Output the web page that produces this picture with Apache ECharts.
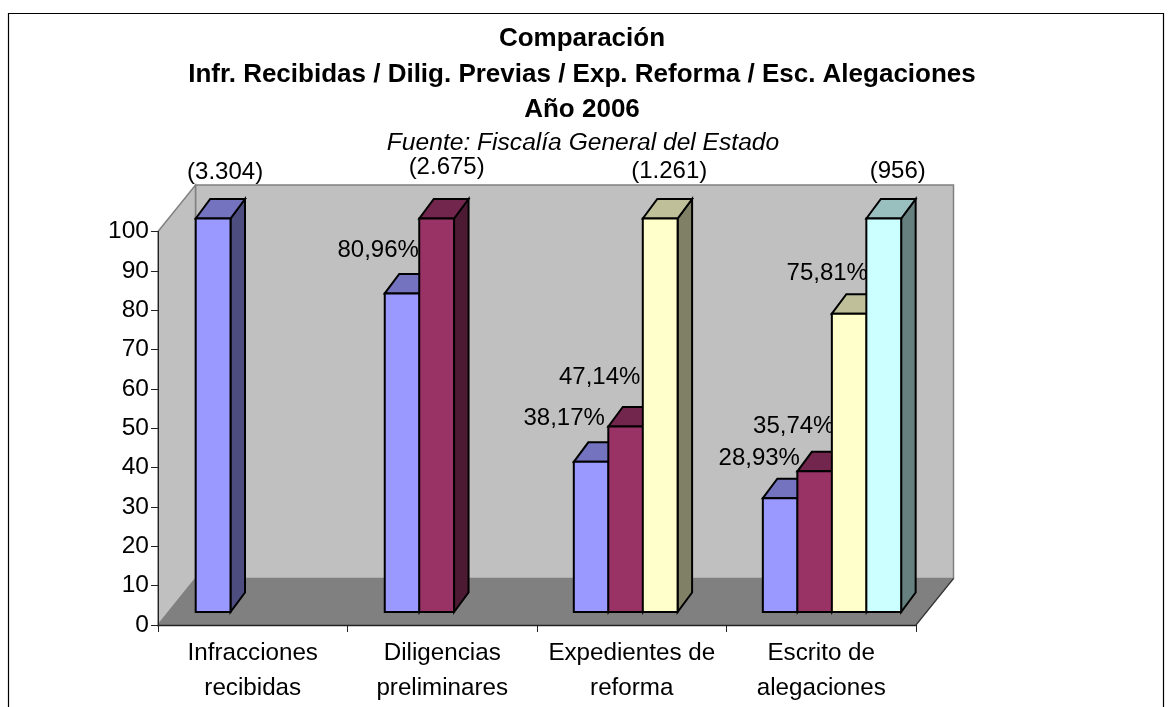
<!DOCTYPE html>
<html><head><meta charset="utf-8">
<style>html,body{margin:0;padding:0;background:#fff;overflow:hidden}#c{width:1173px;height:707px}</style>
<script src="https://cdn.jsdelivr.net/npm/echarts@6/dist/echarts.min.js"></script>
</head><body><div id="c"></div>
<script>
const categories = ['Infracciones\nrecibidas','Diligencias\npreliminares','Expedientes de\nreforma','Escrito de\nalegaciones'];
const seriesNames = ['Serie 1','Serie 2','Serie 3','Serie 4'];
const valuesA = [100, 80.96, 38.17, 28.93];
const valuesB = [null, 100, 47.14, 35.74];
const valuesC = [null, null, 100, 75.81];
const valuesD = [null, null, null, 100];
const labelsA = ['(3.304)', '80,96%', '38,17%', '28,93%'];
const labelsB = [null, '(2.675)', '47,14%', '35,74%'];
const labelsC = [null, null, '(1.261)', '75,81%'];
const labelsD = [null, null, null, '(956)'];
const yTicks = [0,100,10];
const titleLines = ['Comparación','Infr. Recibidas / Dilig. Previas / Exp. Reforma / Esc. Alegaciones','Año 2006'];
const sourceLine = 'Fuente: Fiscalía General del Estado';

// styles and layout (separate from data)
const colours = ['#9999FF','#993366','#FFFFCC','#CCFFFF'];
const tops = ['#7373BF','#73264D','#BFBF99','#99BFBF'];
const sides = ['#4D4D80','#4D1A33','#808066','#668080'];
const font = '"Liberation Sans", Arial, sans-serif';
const wallD = {x:37.5, y:-46.5};
const barFront = {x:37.7, groupSkew:-0.45, slot:34.5, w:34.8, y:-13};
const barD = {x:14.5, y:-19.5};
// label nudges relative to the bar's front-top centre: [dx, dy]
const nudges = [
  [[12,-46],[-24,-43],[-27,-43],[-21,-40]],
  [null,[10,-51],[-26,-49],[-21,-45]],
  [null,null,[9,-47],[-22,-40]],
  [null,null,null,[14,-47]]
];

function poly(pts, fill, stroke, lw){
  return {type:'polygon', shape:{points:pts}, style:{fill, stroke:stroke||null, lineWidth:lw||0, lineJoin:'miter'}};
}
function barSeries(s, values, labels){
  return {
    type:'custom', name:seriesNames[s], z:3+s, silent:true, clip:false,
    data: values.map((v,i)=>[i,v]).filter(d=>d[1]!==null),
    encode:{x:0,y:1},
    renderItem(params, api){
      const i = api.value(0), v = api.value(1);
      const band = api.size([1,0])[0];
      const c = api.coord([i,v]);
      const base = api.coord([i,0]);
      const x0 = c[0]-band/2+barFront.x+i*barFront.groupSkew+s*barFront.slot;
      const x1 = x0+barFront.w;
      const yT = c[1]+barFront.y, yB = base[1]+barFront.y;
      const dx = barD.x, dy = barD.y;
      const st = '#000', lw = 2;
      const n = nudges[s][i];
      return {type:'group', children:[
        poly([[x1,yT],[x1+dx,yT+dy],[x1+dx,yB+dy],[x1,yB]], sides[s], st, lw),
        poly([[x0,yT],[x0+dx,yT+dy],[x1+dx,yT+dy],[x1,yT]], tops[s], st, lw),
        poly([[x0,yT],[x1,yT],[x1,yB],[x0,yB]], colours[s], st, lw),
        {type:'text', z2:50, style:{x:(x0+x1)/2+n[0], y:yT+n[1], text:labels[i], fill:'#000',
          font:'24px '+font, align:'center', verticalAlign:'middle'}}
      ]};
    }
  };
}
const wallSeries = {
  type:'custom', name:'walls', z:1, silent:true, clip:false, data:[[0,0]], encode:{x:0,y:1},
  renderItem(params, api){
    const g = params.coordSys;
    const L=g.x, R=g.x+g.width, T=g.y, B=g.y+g.height, dx=wallD.x, dy=wallD.y;
    const edge='#808080';
    return {type:'group', children:[
      poly([[L+dx,T+dy],[R+dx,T+dy],[R+dx,B+dy],[L+dx,B+dy]], '#C0C0C0', edge, 1.5),
      poly([[L,T],[L+dx,T+dy],[L+dx,B+dy],[L,B]], '#C0C0C0', edge, 1.5),
      poly([[L,B],[R,B],[R+dx,B+dy],[L+dx,B+dy]], '#808080', null, 0),
      {type:'line', shape:{x1:R,y1:B,x2:R+dx,y2:B+dy}, style:{stroke:'#333',lineWidth:1.2}}
    ]};
  }
};
const titleY = [26,62,97];
const option = {
  animation:false,
  backgroundColor:'#fff',
  title:[
    ...titleLines.map((t,i)=>({text:t,left:582,top:titleY[i],padding:0,textAlign:'center',
      textStyle:{fontFamily:font,fontWeight:'bold',fontSize:26,color:'#000'}})),
    {text:sourceLine,left:583,top:131,padding:0,textAlign:'center',
      textStyle:{fontFamily:font,fontStyle:'italic',fontWeight:'normal',fontSize:24.6,color:'#000'}}
  ],
  graphic:[{type:'rect',silent:true,z:-1,shape:{x:8.5,y:13.5,width:1155,height:720},style:{fill:'#fff',stroke:'#000',lineWidth:1.2}}],
  grid:{left:158,top:231.5,width:758,height:393.5,containLabel:false,outerBoundsMode:'none'},
  xAxis:{type:'category',data:categories,z:10,boundaryGap:true,
    axisLine:{show:true,lineStyle:{color:'#222',width:1.3}},
    axisTick:{show:true,alignWithLabel:false,length:7,lineStyle:{color:'#222',width:1}},
    splitLine:{show:false},
    axisLabel:{interval:0,margin:11,fontFamily:font,fontSize:24.2,color:'#000',lineHeight:35}},
  yAxis:{type:'value',min:yTicks[0],max:yTicks[1],interval:yTicks[2],z:10,
    axisLine:{show:true,lineStyle:{color:'#222',width:1}},
    axisTick:{show:true,length:7,lineStyle:{color:'#222',width:1}},
    splitLine:{show:false},
    axisLabel:{margin:9,fontFamily:font,fontSize:24.5,color:'#000'}},
  series:[wallSeries, barSeries(0,valuesA,labelsA), barSeries(1,valuesB,labelsB), barSeries(2,valuesC,labelsC), barSeries(3,valuesD,labelsD)]
};
const chart = echarts.init(document.getElementById('c'),null,{renderer:'canvas'});
chart.setOption(option);
</script></body></html>
